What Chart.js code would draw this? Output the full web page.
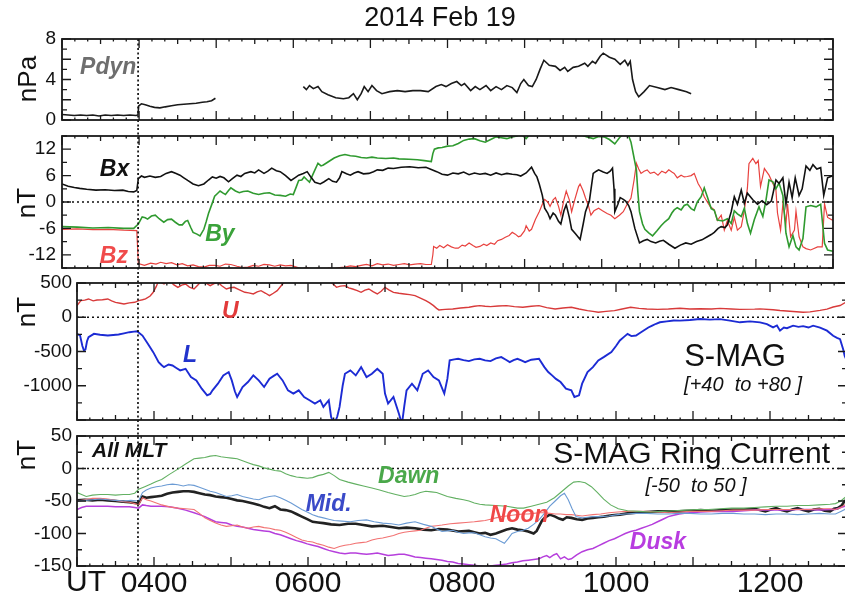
<!DOCTYPE html>
<html>
<head>
<meta charset="utf-8">
<script src="https://cdn.jsdelivr.net/npm/chart.js@4.4.1/dist/chart.umd.min.js"></script>
<style>
  html, body { margin: 0; padding: 0; background: #fff; width: 845px; height: 597px; overflow: hidden; }
  canvas { position: absolute; left: 0; top: 0; }
</style>
</head>
<body>
<canvas id="p1" width="845" height="597"></canvas>
<canvas id="p2" width="845" height="597"></canvas>
<canvas id="p3" width="847" height="597"></canvas>
<canvas id="p4" width="847" height="597"></canvas>
<script>
// ---- Time base: decimal hours UT, 2014-02-19 ----
const timeRange = [3, 13];
const hourLabels = ['0400', '0600', '0800', '1000', '1200'];
// storm sudden commencement, in the time base of the upper (solar wind) and lower (ground) panels
const onsetUpper = 3.987;
const onsetLower = 3.792;

// ---- Solar wind dynamic pressure (nPa) [time, value] ----
const pdyn = [
  [3.00,0.55],[3.08,0.5],[3.16,0.45],[3.24,0.5],[3.32,0.45],[3.40,0.5],[3.48,0.4],[3.56,0.5],[3.64,0.45],
  [3.72,0.5],[3.80,0.45],[3.88,0.5],[3.96,0.45],[3.985,0.5],
  [3.995,1.4],[4.03,1.6],[4.08,1.5],[4.14,1.35],[4.20,1.25],[4.27,1.2],[4.34,1.3],[4.42,1.4],[4.50,1.5],
  [4.58,1.55],[4.66,1.6],[4.74,1.65],[4.82,1.75],[4.88,1.8],[4.94,1.9],[4.99,2.15],
  [5.5,null],
  [6.13,3.3],[6.17,3.0],[6.21,3.4],[6.26,3.1],[6.32,3.3],[6.37,2.8],[6.45,2.5],[6.55,2.2],[6.65,2.1],[6.72,2.2],
  [6.78,2.6],[6.83,2.0],[6.88,2.6],[6.92,3.3],[6.97,2.8],[7.02,3.4],[7.08,2.9],[7.15,2.6],[7.25,2.8],[7.35,2.9],
  [7.45,2.8],[7.55,2.9],[7.65,2.9],[7.75,2.8],[7.85,3.3],[7.92,3.5],[7.98,3.3],[8.05,3.6],[8.12,3.8],[8.18,3.4],
  [8.22,3.6],[8.30,2.9],[8.36,3.3],[8.42,3.0],[8.50,3.4],[8.56,2.9],[8.63,3.3],[8.70,3.0],[8.77,3.4],[8.84,3.2],
  [8.90,2.7],[8.95,3.6],[8.99,4.0],[9.05,3.4],[9.10,3.3],[9.15,4.0],[9.20,5.0],[9.25,5.9],[9.32,5.4],[9.40,5.3],
  [9.46,4.9],[9.52,5.2],[9.56,4.8],[9.63,5.2],[9.70,5.3],[9.78,5.6],[9.82,5.3],[9.88,5.8],[9.92,5.6],[9.98,6.3],
  [10.02,6.6],[10.10,6.2],[10.17,6.0],[10.24,5.5],[10.30,5.9],[10.34,5.4],[10.37,5.8],[10.40,4.0],[10.44,2.8],
  [10.48,2.3],[10.55,2.8],[10.62,3.4],[10.72,3.2],[10.82,3.0],[10.90,3.2],[11.00,3.0],[11.10,2.8],[11.16,2.6]
];

// ---- IMF components (nT) [time, value] ----
const bx = [
  [3.00,4.1],[3.08,3.6],[3.16,3.3],[3.23,3.1],[3.32,2.9],[3.44,2.7],[3.56,2.8],[3.68,2.6],[3.79,2.7],[3.86,2.4],[3.93,2.3],[3.97,2.6],
  [3.99,5.3],[4.03,5.9],[4.07,5.6],[4.14,5.9],[4.21,5.6],[4.28,5.8],[4.35,6.5],[4.42,6.9],[4.48,6.5],[4.53,6.1],[4.58,5.5],[4.63,4.9],
  [4.70,4.1],[4.77,3.7],[4.84,4.1],[4.90,5.0],[4.95,5.7],[5.00,5.4],[5.05,5.8],[5.10,5.5],[5.16,4.6],[5.21,5.3],[5.27,6.1],[5.32,5.8],
  [5.37,6.5],[5.45,6.9],[5.50,6.6],[5.55,7.3],[5.62,6.5],[5.67,7.0],[5.72,7.7],[5.78,7.1],[5.83,6.9],[5.90,6.0],[5.97,4.9],[6.02,5.5],
  [6.07,6.1],[6.13,6.5],[6.18,6.9],[6.23,5.6],[6.28,4.5],[6.35,4.1],[6.40,4.6],[6.46,5.3],[6.51,4.7],[6.56,4.5],[6.60,5.5],[6.63,6.9],
  [6.69,6.4],[6.74,6.1],[6.79,6.6],[6.84,6.9],[6.91,6.4],[6.98,6.5],[7.04,6.9],[7.09,7.3],[7.16,7.2],[7.23,7.7],[7.30,7.6],[7.40,7.9],
  [7.51,8.0],[7.62,7.8],[7.72,7.9],[7.79,7.4],[7.86,6.9],[7.93,6.3],[8.00,6.1],[8.07,6.6],[8.14,6.4],[8.21,6.8],[8.28,6.2],[8.35,6.6],
  [8.42,6.3],[8.49,6.5],[8.56,6.1],[8.63,6.6],[8.70,6.2],[8.77,6.5],[8.84,6.3],[8.90,6.2],[8.95,5.9],[9.02,6.6],[9.09,7.9],[9.13,6.5],
  [9.16,5.7],[9.19,4.1],[9.23,1.5],[9.26,-1.4],[9.30,-2.5],[9.33,-3.8],[9.37,-2.5],[9.40,-3.0],[9.44,-4.4],[9.47,-5.0],[9.51,-2.0],
  [9.54,-0.6],[9.58,-3.5],[9.61,-6.2],[9.66,-7.2],[9.72,-8.5],[9.76,-5.0],[9.79,-2.2],[9.84,0.2],[9.87,4.0],[9.89,6.5],[9.93,7.0],
  [9.96,7.3],[10.02,6.8],[10.07,6.5],[10.11,7.0],[10.14,7.7],[10.16,3.0],[10.17,-2.2],[10.21,-0.5],[10.24,1.0],[10.28,0.6],[10.31,0.2],
  [10.35,-0.8],[10.38,-2.2],[10.43,-6.0],[10.49,-9.3],[10.54,-8.8],[10.59,-8.5],[10.64,-9.0],[10.70,-9.3],[10.75,-8.9],[10.80,-8.7],
  [10.87,-9.6],[10.95,-10.5],[11.02,-9.8],[11.09,-9.3],[11.16,-9.6],[11.23,-9.0],[11.30,-8.6],[11.37,-7.9],[11.42,-7.4],[11.46,-6.9],
  [11.51,-6.0],[11.55,-5.6],[11.60,-5.8],[11.63,-5.2],[11.68,-2.2],[11.72,1.2],[11.76,-0.5],[11.81,2.7],[11.85,-0.3],[11.89,2.0],
  [11.96,0.5],[12.02,-0.5],[12.08,0.3],[12.14,-0.6],[12.20,0.2],[12.26,5.0],[12.30,4.2],[12.35,5.5],[12.39,-0.5],[12.43,4.5],[12.47,1.0],
  [12.51,5.5],[12.56,1.5],[12.60,3.0],[12.65,8.2],[12.70,7.2],[12.74,8.5],[12.79,7.5],[12.84,7.8],[12.88,1.5],[12.93,5.5],[13.0,6.0]
];
const by = [
  [3.00,-5.6],[3.20,-5.7],[3.40,-5.9],[3.60,-5.8],[3.80,-6.0],[3.93,-6.0],[3.99,-5.0],[4.04,-3.4],[4.08,-3.6],[4.11,-3.9],[4.16,-3.2],
  [4.21,-3.0],[4.26,-3.8],[4.32,-4.6],[4.37,-4.0],[4.42,-3.9],[4.47,-4.6],[4.52,-5.2],[4.56,-5.2],[4.60,-4.4],[4.63,-4.2],[4.67,-5.8],
  [4.70,-6.9],[4.75,-7.3],[4.79,-7.7],[4.84,-6.2],[4.87,-4.5],[4.90,-2.6],[4.95,-0.2],[4.98,1.3],[5.02,2.0],[5.05,2.5],[5.09,2.0],
  [5.12,1.7],[5.16,2.6],[5.19,3.2],[5.25,2.5],[5.30,2.1],[5.35,2.4],[5.41,2.5],[5.48,2.0],[5.55,1.7],[5.62,2.0],[5.69,2.1],[5.76,1.6],
  [5.83,1.5],[5.90,1.3],[5.96,1.8],[6.00,1.7],[6.04,3.5],[6.07,4.9],[6.11,5.0],[6.14,5.7],[6.18,5.0],[6.21,4.5],[6.26,6.5],[6.32,8.8],
  [6.36,8.2],[6.39,8.4],[6.46,9.2],[6.53,10.0],[6.60,10.5],[6.67,10.8],[6.74,10.5],[6.81,10.4],[6.88,10.1],[6.95,10.0],[7.02,10.2],
  [7.09,10.0],[7.20,9.9],[7.30,10.0],[7.37,9.8],[7.50,9.7],[7.61,9.6],[7.70,9.4],[7.79,9.2],[7.81,11.0],[7.83,12.0],[7.88,12.3],
  [7.93,12.4],[8.00,12.7],[8.07,12.8],[8.14,13.3],[8.21,14.0],[8.28,14.3],[8.35,14.4],[8.42,13.9],[8.49,13.6],[8.56,14.2],[8.63,14.8],
  [8.70,14.6],[8.77,14.4],[8.84,14.8],[8.90,15.0],[8.95,15.5],[9.02,14.4],[9.06,15.2],[9.09,16.0],[9.14,15.4],[9.19,15.2],[9.26,15.6],
  [9.33,16.0],[9.40,15.6],[9.47,15.5],[9.54,15.9],[9.61,15.8],[9.68,15.3],[9.74,15.2],[9.81,14.8],[9.89,14.4],[9.96,14.9],[10.03,14.8],
  [10.10,14.2],[10.17,13.2],[10.24,14.8],[10.31,16.0],[10.35,15.0],[10.38,13.6],[10.42,10.0],[10.45,7.3],[10.47,2.0],[10.49,-2.2],
  [10.53,-5.0],[10.56,-6.2],[10.61,-7.0],[10.66,-7.7],[10.72,-6.5],[10.77,-5.4],[10.82,-4.5],[10.87,-3.8],[10.91,-2.5],[10.94,-1.8],
  [10.98,-1.3],[11.03,-1.8],[11.07,-0.8],[11.11,-0.5],[11.16,-1.5],[11.20,-1.9],[11.24,0.0],[11.29,1.2],[11.33,3.2],[11.37,1.2],
  [11.42,-1.5],[11.46,-1.9],[11.50,-4.1],[11.57,-4.3],[11.63,-3.8],[11.68,-4.9],[11.72,-2.0],[11.76,-2.7],[11.81,-3.3],[11.85,-1.4],
  [11.89,-4.9],[11.93,-7.1],[11.98,-4.0],[12.04,-1.1],[12.09,-3.3],[12.13,0.3],[12.17,5.0],[12.22,4.6],[12.26,3.0],[12.30,4.3],
  [12.35,1.5],[12.39,-7.1],[12.43,-10.2],[12.48,-7.6],[12.52,-10.2],[12.56,-10.9],[12.61,-8.3],[12.65,-1.1],[12.71,-0.8],[12.78,-1.1],
  [12.84,-0.5],[12.89,-9.4],[12.93,-10.9],[13.0,-11.2]
];
const bz = [
  [3.00,-6.2],[3.20,-6.1],[3.40,-6.3],[3.60,-6.2],[3.80,-6.4],[3.97,-6.5],[3.99,-14.0],[4.07,-14.4],[4.15,-13.9],[4.22,-14.1],
  [4.28,-13.7],[4.35,-14.0],[4.42,-13.8],[4.49,-14.3],[4.56,-14.0],[4.63,-14.5],[4.70,-14.3],[4.77,-14.7],[4.84,-14.8],[4.91,-14.4],
  [4.98,-14.4],[5.05,-14.6],[5.12,-14.1],[5.19,-14.2],[5.27,-14.6],[5.34,-14.9],[5.41,-14.8],[5.48,-14.4],[5.55,-14.6],[5.62,-14.2],
  [5.69,-14.3],[5.76,-14.6],[5.83,-14.3],[5.90,-14.5],[5.97,-14.4],[6.04,-14.8],[6.11,-15.2],[6.18,-14.9],[6.25,-15.3],[6.32,-15.0],
  [6.39,-15.4],[6.46,-15.0],[6.53,-15.2],[6.60,-14.9],[6.67,-14.8],[6.74,-14.5],[6.81,-14.7],[6.88,-14.4],[6.95,-14.2],[7.02,-14.5],
  [7.09,-14.0],[7.16,-14.3],[7.23,-14.1],[7.30,-14.4],[7.37,-14.2],[7.44,-14.0],[7.51,-14.3],[7.58,-14.1],[7.65,-14.0],[7.72,-14.2],
  [7.79,-14.2],[7.81,-12.0],[7.82,-10.1],[7.86,-10.5],[7.90,-9.9],[7.95,-10.4],[8.00,-9.7],[8.05,-10.2],[8.10,-10.5],[8.14,-10.5],
  [8.19,-9.8],[8.23,-10.0],[8.28,-9.3],[8.33,-9.9],[8.37,-10.3],[8.42,-10.1],[8.47,-9.6],[8.51,-9.9],[8.56,-9.3],[8.61,-9.6],
  [8.65,-8.8],[8.70,-8.5],[8.75,-8.0],[8.80,-7.6],[8.84,-6.9],[8.88,-7.3],[8.92,-7.9],[8.95,-7.7],[9.00,-6.5],[9.02,-5.4],[9.06,-6.6],
  [9.09,-6.2],[9.14,-4.0],[9.19,-2.2],[9.23,-0.5],[9.26,0.6],[9.30,0.0],[9.33,-1.0],[9.37,0.5],[9.40,1.0],[9.44,-1.0],[9.47,-3.0],
  [9.51,0.5],[9.54,2.5],[9.58,0.5],[9.61,-2.2],[9.65,0.5],[9.70,3.5],[9.72,4.1],[9.76,2.5],[9.79,0.9],[9.83,-1.0],[9.86,-3.0],
  [9.90,-2.0],[9.96,-1.4],[10.01,-2.0],[10.07,-2.6],[10.12,-3.0],[10.17,-3.8],[10.23,-3.0],[10.28,-2.2],[10.33,-0.5],[10.38,0.9],
  [10.42,5.0],[10.45,8.8],[10.48,7.5],[10.51,6.5],[10.55,7.0],[10.59,7.3],[10.63,6.5],[10.68,6.8],[10.73,6.1],[10.78,7.0],[10.83,6.6],
  [10.87,7.3],[10.91,6.8],[10.94,6.5],[10.98,5.5],[11.03,6.1],[11.07,5.7],[11.11,5.8],[11.16,6.0],[11.20,6.5],[11.25,4.2],[11.29,3.0],
  [11.33,1.2],[11.37,0.0],[11.41,-1.1],[11.46,-1.8],[11.50,-4.2],[11.55,-3.0],[11.59,-6.4],[11.63,-4.2],[11.68,-6.4],[11.72,-3.5],
  [11.76,-6.4],[11.81,-5.6],[11.85,-1.9],[11.89,3.2],[11.91,8.7],[11.96,9.9],[12.00,8.7],[12.03,9.4],[12.06,3.5],[12.11,7.6],
  [12.17,6.1],[12.22,4.2],[12.26,2.7],[12.28,-2.5],[12.32,-6.4],[12.35,-0.4],[12.39,-4.9],[12.41,-0.4],[12.45,-7.9],[12.50,-6.4],
  [12.52,-2.1],[12.56,-7.9],[12.61,-10.2],[12.65,-10.6],[12.71,-10.9],[12.80,-10.2],[12.86,-10.2],[12.89,-0.4],[12.93,-3.5],[13.0,-4.2]
];

// ---- S-MAG high-latitude upper / lower envelopes (nT) [time, value] ----
const smagU = [
  [3.00,170],[3.05,243],[3.10,250],[3.15,267],[3.21,240],[3.26,252],[3.33,255],[3.40,267],[3.45,240],[3.50,218],[3.56,205],[3.61,194],
  [3.68,210],[3.75,218],[3.80,243],[3.85,255],[3.89,267],[3.95,310],[3.99,364],[4.03,450],[4.06,534],[4.10,500],[4.13,485],[4.17,530],
  [4.20,558],[4.25,480],[4.31,437],[4.36,470],[4.41,485],[4.46,440],[4.52,412],[4.57,470],[4.62,534],[4.67,500],[4.73,461],[4.78,490],
  [4.83,509],[4.88,460],[4.94,412],[4.99,430],[5.04,437],[5.11,400],[5.18,364],[5.23,355],[5.29,340],[5.34,370],[5.39,388],[5.45,350],
  [5.50,315],[5.55,350],[5.60,388],[5.67,485],[5.74,560],[5.80,620],[5.90,650],[6.00,640],[6.10,660],[6.20,610],[6.27,560],[6.30,509],
  [6.34,470],[6.37,437],[6.42,455],[6.48,461],[6.53,430],[6.58,412],[6.64,390],[6.69,364],[6.74,395],[6.79,412],[6.85,370],[6.90,340],
  [6.95,380],[7.00,437],[7.05,400],[7.11,364],[7.18,350],[7.25,340],[7.32,330],[7.39,315],[7.46,280],[7.53,243],[7.58,210],[7.63,170],
  [7.67,130],[7.70,107],[7.78,115],[7.88,121],[7.98,135],[8.09,146],[8.16,160],[8.23,170],[8.30,160],[8.37,155],[8.47,165],[8.58,170],
  [8.68,155],[8.79,146],[8.90,160],[9.00,170],[9.10,140],[9.21,121],[9.31,135],[9.42,146],[9.52,120],[9.63,97],[9.70,85],[9.77,73],
  [9.87,85],[9.98,97],[10.08,120],[10.19,146],[10.30,130],[10.40,121],[10.54,115],[10.68,121],[10.83,132],[10.96,120],[11.09,125],
  [11.24,120],[11.35,130],[11.50,120],[11.61,115],[11.80,118],[11.87,122],[12.04,110],[12.13,98],[12.30,85],[12.43,73],[12.52,78],
  [12.65,100],[12.74,118],[12.82,150],[12.91,171],[13.0,230]
];
const smagL = [
  [3.00,-242],[3.04,-267],[3.07,-420],[3.09,-485],[3.11,-470],[3.13,-350],[3.15,-291],[3.22,-242],[3.30,-255],[3.40,-267],[3.47,-260],
  [3.54,-252],[3.61,-235],[3.68,-218],[3.74,-210],[3.78,-204],[3.85,-267],[3.92,-388],[3.99,-509],[4.06,-655],[4.10,-700],[4.13,-728],
  [4.19,-690],[4.24,-704],[4.29,-740],[4.34,-776],[4.41,-752],[4.45,-820],[4.48,-873],[4.55,-922],[4.62,-1043],[4.69,-1140],[4.73,-1120],
  [4.76,-1067],[4.83,-970],[4.90,-849],[4.97,-800],[5.01,-922],[5.05,-1080],[5.08,-1164],[5.15,-1018],[5.22,-946],[5.29,-849],
  [5.36,-922],[5.43,-1018],[5.50,-897],[5.55,-860],[5.60,-825],[5.67,-922],[5.74,-1067],[5.81,-1115],[5.88,-1067],[5.95,-1164],
  [6.02,-1212],[6.09,-1261],[6.16,-1212],[6.20,-1309],[6.27,-1212],[6.30,-1455],[6.34,-1560],[6.38,-1450],[6.41,-1309],[6.45,-1000],
  [6.48,-825],[6.55,-776],[6.62,-849],[6.69,-728],[6.76,-873],[6.83,-825],[6.90,-752],[6.97,-825],[7.00,-1115],[7.04,-1261],
  [7.11,-1164],[7.18,-1406],[7.22,-1560],[7.25,-1300],[7.28,-1067],[7.35,-970],[7.42,-1067],[7.49,-825],[7.56,-776],[7.63,-873],
  [7.70,-922],[7.77,-1115],[7.81,-900],[7.84,-630],[7.90,-615],[7.95,-606],[8.02,-625],[8.09,-640],[8.16,-615],[8.23,-606],[8.30,-630],
  [8.37,-640],[8.44,-600],[8.51,-582],[8.57,-620],[8.62,-655],[8.67,-625],[8.72,-606],[8.77,-630],[8.82,-655],[8.90,-620],[9.00,-606],
  [9.07,-728],[9.12,-800],[9.17,-849],[9.22,-900],[9.28,-946],[9.35,-1043],[9.42,-1067],[9.46,-1164],[9.52,-1140],[9.56,-970],
  [9.63,-800],[9.70,-728],[9.77,-630],[9.84,-582],[9.94,-509],[10.00,-420],[10.05,-339],[10.10,-290],[10.15,-242],[10.20,-275],
  [10.26,-267],[10.31,-230],[10.36,-194],[10.42,-150],[10.47,-121],[10.52,-95],[10.57,-73],[10.66,-60],[10.75,-48],[10.83,-49],
  [10.96,-40],[11.09,-25],[11.22,-35],[11.35,-28],[11.48,-50],[11.61,-74],[11.74,-60],[11.87,-75],[11.96,-100],[12.04,-147],
  [12.09,-120],[12.13,-196],[12.18,-150],[12.22,-160],[12.30,-123],[12.37,-140],[12.43,-130],[12.50,-150],[12.56,-123],[12.65,-150],
  [12.74,-196],[12.82,-270],[12.87,-300],[12.91,-319],[12.95,-466],[12.97,-564],[13.0,-640]
];

// ---- S-MAG ring current index by local-time sector (nT) [time, value] ----
const allMLT = [
  [3.00,-49],[3.10,-48],[3.20,-49],[3.30,-48],[3.40,-49],[3.50,-50],[3.60,-51],[3.68,-52],[3.75,-53],[3.80,-54],[3.83,-47],[3.85,-43],
  [3.90,-45],[3.96,-44],[4.03,-43],[4.10,-42],[4.17,-39],[4.24,-37],[4.31,-36],[4.38,-35],[4.45,-35],[4.52,-36],[4.59,-38],[4.66,-40],
  [4.73,-41],[4.80,-43],[4.87,-44],[4.94,-45],[5.01,-47],[5.08,-49],[5.15,-50],[5.22,-52],[5.29,-54],[5.36,-56],[5.43,-59],[5.50,-61],
  [5.57,-58],[5.64,-63],[5.71,-64],[5.78,-66],[5.85,-70],[5.92,-74],[5.99,-78],[6.06,-82],[6.13,-83],[6.20,-84],[6.30,-86],[6.41,-87],
  [6.52,-85],[6.62,-85],[6.72,-87],[6.83,-89],[6.97,-88],[7.08,-90],[7.18,-92],[7.28,-91],[7.39,-92],[7.50,-94],[7.60,-95],[7.70,-93],
  [7.81,-94],[7.95,-97],[8.09,-96],[8.16,-98],[8.23,-100],[8.30,-99],[8.37,-102],[8.44,-100],[8.51,-97],[8.58,-94],[8.65,-92],[8.72,-94],
  [8.79,-95],[8.86,-97],[8.93,-100],[8.97,-96],[9.00,-89],[9.04,-80],[9.07,-76],[9.14,-71],[9.21,-74],[9.26,-77],[9.31,-79],[9.36,-75],
  [9.42,-76],[9.49,-78],[9.56,-79],[9.63,-77],[9.70,-76],[9.77,-75],[9.84,-74],[9.95,-72],[10.05,-71],[10.15,-69],[10.26,-68],
  [10.40,-67],[10.54,-66],[10.68,-66],[10.82,-66],[10.96,-65],[11.10,-64],[11.24,-65],[11.38,-64],[11.52,-63],[11.66,-63],[11.80,-62],
  [11.94,-66],[12.01,-63],[12.08,-61],[12.15,-64],[12.22,-66],[12.29,-63],[12.36,-61],[12.43,-64],[12.50,-66],[12.57,-63],[12.64,-62],
  [12.71,-65],[12.78,-66],[12.83,-62],[12.88,-61],[12.93,-57],[12.97,-50],[13.0,-48]
];
const dawn = [
  [3.00,-37],[3.06,-40],[3.12,-43],[3.20,-41],[3.30,-40],[3.40,-40],[3.50,-41],[3.60,-40],[3.68,-40],[3.75,-38],[3.80,-32],[3.88,-28],
  [3.96,-24],[4.03,-20],[4.10,-17],[4.20,-9],[4.31,-1],[4.41,7],[4.52,15],[4.59,16],[4.66,17],[4.73,19],[4.80,20],[4.87,18],[4.94,17],
  [5.01,16],[5.08,15],[5.15,12],[5.22,9],[5.29,6],[5.36,4],[5.43,1],[5.50,-1],[5.57,-3],[5.64,-4],[5.71,-8],[5.78,-11],[5.85,-13],
  [5.92,-14],[5.99,-15],[6.06,-14],[6.13,-11],[6.20,-9],[6.27,-6],[6.34,-11],[6.41,-17],[6.52,-21],[6.62,-24],[6.72,-27],[6.83,-30],
  [6.93,-33],[7.04,-37],[7.14,-40],[7.25,-43],[7.32,-42],[7.39,-40],[7.46,-37],[7.53,-35],[7.60,-36],[7.67,-37],[7.74,-40],[7.81,-43],
  [7.92,-46],[8.02,-48],[8.09,-50],[8.16,-53],[8.23,-55],[8.30,-56],[8.44,-57],[8.58,-58],[8.72,-61],[8.80,-61],[8.90,-58],[9.00,-55],
  [9.10,-52],[9.20,-45],[9.30,-35],[9.38,-27],[9.45,-21],[9.52,-20],[9.60,-22],[9.68,-28],[9.76,-37],[9.84,-47],[9.93,-56],[10.03,-62],
  [10.15,-65],[10.30,-66],[10.45,-67],[10.60,-66],[10.75,-65],[10.90,-64],[11.05,-63],[11.20,-63],[11.35,-62],[11.50,-61],[11.66,-61],
  [11.80,-60],[11.94,-59],[12.08,-58],[12.22,-58],[12.36,-57],[12.50,-57],[12.64,-56],[12.78,-55],[12.85,-54],[12.92,-50],[12.97,-45],
  [13.0,-42]
];
const midnight = [
  [3.00,-50],[3.10,-49],[3.20,-48],[3.30,-47],[3.40,-48],[3.50,-49],[3.60,-50],[3.70,-49],[3.80,-50],[3.85,-37],[3.90,-33],[3.96,-30],
  [4.03,-28],[4.10,-27],[4.17,-25],[4.24,-24],[4.31,-25],[4.38,-27],[4.45,-25],[4.52,-26],[4.59,-29],[4.66,-32],[4.73,-35],[4.80,-37],
  [4.87,-40],[4.94,-43],[5.01,-42],[5.08,-40],[5.15,-43],[5.22,-45],[5.29,-47],[5.36,-48],[5.43,-45],[5.50,-43],[5.57,-42],[5.64,-45],
  [5.71,-49],[5.78,-53],[5.85,-58],[5.92,-63],[5.99,-67],[6.06,-71],[6.13,-74],[6.20,-76],[6.27,-78],[6.34,-80],[6.44,-81],[6.55,-82],
  [6.65,-80],[6.76,-79],[6.86,-82],[6.97,-84],[7.08,-85],[7.18,-87],[7.28,-84],[7.39,-82],[7.50,-86],[7.60,-89],[7.67,-93],[7.74,-97],
  [7.81,-96],[7.88,-95],[7.95,-98],[8.02,-100],[8.09,-99],[8.16,-99],[8.23,-102],[8.30,-105],[8.37,-107],[8.44,-108],[8.50,-112],
  [8.55,-115],[8.60,-108],[8.65,-100],[8.72,-97],[8.79,-95],[8.86,-92],[8.93,-86],[9.00,-79],[9.07,-69],[9.14,-58],[9.21,-50],
  [9.28,-42],[9.33,-38],[9.38,-48],[9.43,-62],[9.48,-74],[9.56,-76],[9.63,-75],[9.70,-74],[9.80,-74],[9.91,-73],[10.02,-71],[10.12,-70],
  [10.26,-69],[10.40,-69],[10.54,-70],[10.68,-70],[10.82,-69],[10.96,-69],[11.10,-70],[11.24,-70],[11.38,-69],[11.52,-69],[11.66,-70],
  [11.80,-70],[11.94,-71],[12.08,-70],[12.22,-70],[12.36,-71],[12.50,-70],[12.64,-69],[12.78,-70],[12.85,-70],[12.92,-66],[12.97,-63],
  [13.0,-60]
];
const noon = [
  [3.00,-50],[3.10,-48],[3.20,-46],[3.30,-46],[3.40,-47],[3.50,-49],[3.60,-51],[3.68,-52],[3.75,-54],[3.80,-56],[3.85,-45],[3.90,-48],
  [3.96,-50],[4.03,-53],[4.10,-56],[4.20,-59],[4.31,-61],[4.41,-62],[4.52,-63],[4.59,-69],[4.66,-76],[4.73,-80],[4.80,-84],[4.87,-87],
  [4.94,-89],[5.01,-88],[5.08,-87],[5.15,-90],[5.22,-92],[5.29,-90],[5.36,-89],[5.43,-91],[5.50,-92],[5.57,-94],[5.64,-95],[5.71,-98],
  [5.78,-102],[5.85,-106],[5.92,-110],[5.99,-112],[6.06,-113],[6.13,-116],[6.20,-118],[6.27,-121],[6.34,-123],[6.41,-120],[6.48,-118],
  [6.55,-117],[6.62,-115],[6.69,-114],[6.76,-113],[6.83,-110],[6.90,-108],[6.97,-107],[7.04,-105],[7.11,-103],[7.18,-100],[7.25,-98],
  [7.32,-97],[7.39,-96],[7.46,-95],[7.53,-92],[7.60,-89],[7.67,-88],[7.74,-87],[7.85,-85],[7.95,-84],[8.05,-83],[8.16,-82],[8.23,-81],
  [8.30,-80],[8.37,-78],[8.44,-76],[8.51,-74],[8.58,-73],[8.65,-72],[8.72,-71],[8.79,-70],[8.86,-70],[8.93,-69],[9.00,-68],[9.07,-68],
  [9.14,-69],[9.21,-70],[9.28,-70],[9.35,-71],[9.42,-71],[9.49,-72],[9.56,-73],[9.63,-72],[9.70,-71],[9.80,-70],[9.91,-68],[10.02,-67],
  [10.12,-66],[10.26,-66],[10.40,-66],[10.54,-67],[10.68,-68],[10.82,-67],[10.96,-66],[11.10,-66],[11.24,-66],[11.38,-65],[11.52,-64],
  [11.66,-64],[11.80,-64],[11.94,-63],[12.08,-63],[12.22,-63],[12.36,-63],[12.50,-63],[12.64,-62],[12.78,-62],[12.85,-63],[12.92,-60],
  [12.97,-56],[13.0,-54]
];
const dusk = [
  [3.00,-63],[3.06,-60],[3.12,-58],[3.20,-58],[3.30,-58],[3.40,-58],[3.50,-59],[3.60,-59],[3.68,-59],[3.75,-60],[3.80,-61],[3.85,-56],
  [3.90,-57],[3.96,-58],[4.03,-58],[4.10,-58],[4.20,-59],[4.31,-61],[4.41,-64],[4.52,-68],[4.59,-71],[4.66,-74],[4.73,-78],[4.80,-82],
  [4.87,-83],[4.94,-84],[5.01,-87],[5.08,-89],[5.15,-90],[5.22,-92],[5.29,-94],[5.36,-95],[5.43,-96],[5.50,-97],[5.57,-100],[5.64,-102],
  [5.71,-105],[5.78,-108],[5.85,-111],[5.92,-113],[5.99,-116],[6.06,-118],[6.13,-120],[6.20,-123],[6.27,-126],[6.34,-128],[6.41,-130],
  [6.48,-131],[6.55,-130],[6.62,-130],[6.69,-131],[6.76,-132],[6.83,-131],[6.90,-130],[6.97,-132],[7.04,-134],[7.11,-133],[7.18,-132],
  [7.25,-132],[7.32,-134],[7.39,-136],[7.46,-137],[7.53,-138],[7.60,-139],[7.67,-140],[7.74,-141],[7.81,-143],[7.88,-144],[7.95,-146],
  [8.02,-147],[8.09,-148],[8.16,-149],[8.23,-150],[8.30,-151],[8.37,-150],[8.44,-149],[8.51,-148],[8.58,-147],[8.65,-145],[8.72,-144],
  [8.79,-142],[8.86,-141],[8.93,-140],[9.00,-139],[9.05,-136],[9.10,-134],[9.14,-137],[9.19,-133],[9.23,-131],[9.28,-139],[9.33,-136],
  [9.38,-140],[9.42,-139],[9.49,-133],[9.56,-128],[9.63,-125],[9.70,-123],[9.77,-119],[9.84,-115],[9.91,-111],[9.98,-108],[10.05,-104],
  [10.12,-100],[10.19,-97],[10.26,-95],[10.33,-92],[10.40,-89],[10.47,-86],[10.54,-82],[10.61,-78],[10.68,-74],[10.75,-72],[10.82,-70],
  [10.89,-69],[10.96,-68],[11.10,-67],[11.24,-66],[11.38,-66],[11.52,-66],[11.66,-65],[11.80,-64],[11.94,-64],[12.08,-64],[12.22,-64],
  [12.36,-63],[12.50,-63],[12.64,-64],[12.78,-63],[12.85,-63],[12.92,-60],[12.97,-58],[13.0,-56]
];

// ---- drawing helpers ----
const FAMILY = '"Liberation Sans", Arial, Helvetica, sans-serif';
const fontOf = (size, style) => `${style || ''} ${size}px ${FAMILY}`.trim();
const points = series => series.map(([t, v]) => ({ x: t, y: v }));
const line = (series, color, width) => ({
  data: points(series), borderColor: color, borderWidth: width,
  pointRadius: 0, tension: 0, spanGaps: false, fill: false
});

// frame with inward ticks, zero line, onset marker and in-panel annotations
const framePlugin = {
  id: 'panelFrame',
  beforeDatasetsDraw(chart, args, o) {
    if (!o.zeroLine) return;
    const { ctx, chartArea: a, scales: { y } } = chart;
    const py = y.getPixelForValue(0);
    ctx.save();
    ctx.strokeStyle = '#111'; ctx.lineWidth = 1.7; ctx.setLineDash([2, 3]);
    ctx.beginPath(); ctx.moveTo(a.left, py); ctx.lineTo(a.right, py); ctx.stroke();
    ctx.restore();
  },
  afterDatasetsDraw(chart, args, o) {
    const { ctx, chartArea: a, scales: { x, y } } = chart;
    ctx.save();
    // onset marker
    const ox = x.getPixelForValue(o.onset);
    ctx.strokeStyle = '#111'; ctx.lineWidth = 1.7; ctx.setLineDash([2, 2.5]);
    ctx.beginPath(); ctx.moveTo(ox, o.onsetSpan[0]); ctx.lineTo(ox, o.onsetSpan[1]); ctx.stroke();
    ctx.setLineDash([]);
    // frame
    ctx.strokeStyle = '#1a1a1a'; ctx.lineWidth = 1.8;
    ctx.strokeRect(a.left, a.top, a.right - a.left, a.bottom - a.top);
    // time ticks every 10 min, half-hour and hour marks longer
    ctx.lineWidth = 1.3;
    ctx.beginPath();
    for (let k = 0; k <= 60; k++) {
      const px = x.getPixelForValue(timeRange[0] + k / 6);
      const len = k % 6 === 0 ? 9 : (k % 3 === 0 ? 5 : 2.5);
      ctx.moveTo(px, a.bottom); ctx.lineTo(px, a.bottom - len);
      ctx.moveTo(px, a.top); ctx.lineTo(px, a.top + len);
    }
    for (let v = y.min; v <= y.max + 1e-9; v += o.minorStep) {
      const py = y.getPixelForValue(v);
      const len = Math.abs(v % o.majorStep) < 1e-9 ? 9 : 5;
      ctx.moveTo(a.left, py); ctx.lineTo(a.left + len, py);
      ctx.moveTo(a.right, py); ctx.lineTo(a.right - len, py);
    }
    ctx.stroke();
    // annotations placed in data coordinates
    ctx.textBaseline = 'middle';
    (o.notes || []).forEach(n => {
      ctx.font = fontOf(n.size, n.style);
      ctx.fillStyle = n.color || '#111';
      ctx.textAlign = n.align || 'left';
      ctx.fillText(n.text, x.getPixelForValue(n.t), y.getPixelForValue(n.v));
    });
    // titles placed on the page
    (o.captions || []).forEach(c => {
      ctx.save();
      ctx.font = fontOf(c.size, c.style);
      ctx.fillStyle = c.color || '#111';
      ctx.textAlign = c.align || 'center';
      ctx.translate(c.x, c.y);
      if (c.rotate) ctx.rotate(c.rotate);
      ctx.fillText(c.text, 0, 0);
      ctx.restore();
    });
    ctx.restore();
  }
};

function makePanel(id, p) {
  const canvas = document.getElementById(id);
  const W = canvas.width, H = canvas.height;
  return new Chart(canvas, {
    type: 'line',
    data: { datasets: p.datasets },
    options: {
      responsive: false, animation: false, events: [],
      layout: { padding: { top: p.area.top, right: W - p.area.right, bottom: 0, left: 0 } },
      plugins: {
        legend: { display: false }, tooltip: { enabled: false },
        panelFrame: p.frame
      },
      scales: {
        x: {
          type: 'linear', min: timeRange[0], max: timeRange[1],
          // the time axis box fills the space below the panel; labels only on the bottom panel
          afterFit: s => { s.height = H - p.area.bottom; },
          grid: { display: false, drawTicks: false }, border: { display: false },
          ticks: {
            display: !!p.timeLabels,
            stepSize: 1, autoSkip: false, maxRotation: 0, padding: 0,
            color: '#111', font: { family: FAMILY, size: 30 },
            callback: v => {
              const lbl = String(Math.round(v * 100)).padStart(4, '0');
              return hourLabels.includes(lbl) ? lbl : '';
            }
          }
        },
        y: {
          type: 'linear', min: p.yMin, max: p.yMax,
          afterFit: s => { s.width = p.area.left; },
          grid: { display: false, drawTicks: false }, border: { display: false },
          ticks: {
            stepSize: p.labelStep, autoSkip: false, padding: p.labelPad,
            color: '#111', font: { family: FAMILY, size: 19 },
            callback: v => (p.labelValues.includes(v) ? String(v) : '')
          }
        }
      }
    },
    plugins: [framePlugin]
  });
}

// Panel 1: solar wind dynamic pressure
makePanel('p1', {
  area: { left: 62, top: 39, right: 833, bottom: 120 },
  yMin: 0, yMax: 8, labelStep: 4, labelValues: [0, 4, 8], labelPad: 6,
  datasets: [line(pdyn, '#1a1a1a', 1.6)],
  frame: {
    minorStep: 1, majorStep: 2, onset: onsetUpper, onsetSpan: [39, 128],
    notes: [{ text: 'Pdyn', t: 3.234, v: 5.2, size: 23, style: 'italic bold', color: '#6e6e6e' }],
    captions: [
      { text: '2014 Feb 19', x: 440, y: 19, size: 27 },
      { text: 'nPa', x: 29, y: 79, size: 26, rotate: -Math.PI / 2 }
    ]
  }
});

// Panel 2: IMF Bx, By, Bz
makePanel('p2', {
  area: { left: 62, top: 136, right: 833, bottom: 268 },
  yMin: -15, yMax: 15, labelStep: 3, labelValues: [-12, -6, 0, 6, 12], labelPad: 6,
  datasets: [line(bx, '#111', 1.6), line(by, '#2f9a2f', 1.6), line(bz, '#e8423f', 1.2)],
  frame: {
    zeroLine: true, minorStep: 3, majorStep: 6, onset: onsetUpper, onsetSpan: [128, 276],
    notes: [
      { text: 'Bx', t: 3.49, v: 7.3, size: 23, style: 'italic bold', color: '#111' },
      { text: 'By', t: 4.857, v: -7.5, size: 23, style: 'italic bold', color: '#3aa23a' },
      { text: 'Bz', t: 3.49, v: -12.5, size: 23, style: 'italic bold', color: '#f04b4b' }
    ],
    captions: [{ text: 'nT', x: 28, y: 203, size: 26, rotate: -Math.PI / 2 }]
  }
});

// Panel 3: S-MAG upper and lower envelopes
makePanel('p3', {
  area: { left: 77, top: 283, right: 847, bottom: 420 },
  yMin: -1500, yMax: 500, labelStep: 500, labelValues: [-1000, -500, 0, 500], labelPad: 5,
  datasets: [line(smagU, '#d83a3a', 1.4), line(smagL, '#1c2bd4', 1.9)],
  frame: {
    zeroLine: true, minorStep: 250, majorStep: 500, onset: onsetLower, onsetSpan: [276, 428],
    notes: [
      { text: 'U', t: 4.883, v: 88, size: 23, style: 'italic bold', color: '#e23a3a' },
      { text: 'L', t: 4.377, v: -559, size: 23, style: 'italic bold', color: '#2233cc' },
      { text: 'S-MAG', t: 11.545, v: -588, size: 31, align: 'center' },
      { text: '[+40  to +80 ]', t: 11.65, v: -1000, size: 20, style: 'italic', align: 'center' }
    ],
    captions: [{ text: 'nT', x: 28, y: 312, size: 26, rotate: -Math.PI / 2 }]
  }
});

// Panel 4: S-MAG ring current by sector
makePanel('p4', {
  area: { left: 77, top: 436, right: 847, bottom: 566 },
  timeLabels: true,
  yMin: -150, yMax: 50, labelStep: 50, labelValues: [-150, -100, -50, 0, 50], labelPad: 5,
  datasets: [
    line(dawn, '#62b062', 1.1), line(midnight, '#6b9bd4', 1.1), line(noon, '#f27272', 1.1),
    line(dusk, '#b63fdc', 1.5), line(allMLT, '#222', 2.6)
  ],
  frame: {
    zeroLine: true, minorStep: 25, majorStep: 50, onset: onsetLower, onsetSpan: [428, 566],
    notes: [
      { text: 'All MLT', t: 3.195, v: 27, size: 21, style: 'italic bold', color: '#111' },
      { text: 'S-MAG Ring Current', t: 12.78, v: 20.8, size: 30, align: 'right' },
      { text: '[-50  to 50 ]', t: 11.04, v: -27, size: 20, style: 'italic', align: 'center' },
      { text: 'Dawn', t: 6.91, v: -13, size: 23, style: 'italic bold', color: '#4aa84a' },
      { text: 'Mid.', t: 5.97, v: -56, size: 23, style: 'italic bold', color: '#3a4ac8' },
      { text: 'Noon', t: 8.36, v: -73, size: 23, style: 'italic bold', color: '#f04848' },
      { text: 'Dusk', t: 10.18, v: -114, size: 23, style: 'italic bold', color: '#b83ce0' }
    ],
    captions: [
      { text: 'nT', x: 28, y: 455, size: 26, rotate: -Math.PI / 2 },
      { text: 'UT', x: 66, y: 583, size: 30, align: 'left' }
    ]
  }
});
</script>
</body>
</html>
